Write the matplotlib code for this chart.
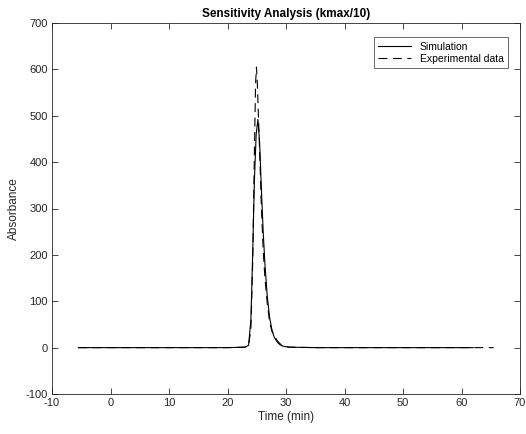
import matplotlib
matplotlib.use("Agg")
import matplotlib.pyplot as plt

plt.rcParams['font.family'] = ['Liberation Sans', 'DejaVu Sans']
plt.rcParams['axes.unicode_minus'] = False

sim_t = [-5.5, 10, 20, 23.0, 23.6, 24.0, 24.3, 24.6, 24.9, 25.2, 25.5, 25.8,
         26.1, 26.4, 26.8, 27.2, 27.6, 28.0, 28.5, 29.0, 29.5, 30.5, 35, 45, 62]
sim_v = [0, 0, 0, 1, 5, 60, 200, 360, 460, 492, 440, 340,
         250, 180, 110, 65, 38, 22, 12, 6, 3, 1, 0, 0, 0]

exp_t = [-5.5, 10, 20, 23.0, 23.6, 24.0, 24.3, 24.6, 24.8, 24.95, 25.1, 25.5,
         25.8, 26.1, 26.4, 26.8, 27.2, 27.6, 28.0, 28.5, 29.0, 29.5, 30.5, 35, 45, 65.5]
exp_v = [0, 0, 0, 1, 4, 40, 180, 420, 570, 605, 570, 420,
         300, 210, 150, 95, 55, 35, 25, 15, 8, 4, 1, 0, 0, 0]

xticks = [-10, 0, 10, 20, 30, 40, 50, 60, 70]
yticks = [-100, 0, 100, 200, 300, 400, 500, 600, 700]

fig = plt.figure(figsize=(5.26, 4.34), dpi=100)
ax = fig.add_axes([52/526, 40/434, 468/526, 371/434])

ax.plot(sim_t, sim_v, color='black', lw=0.8, label='Simulation')
ax.plot(exp_t, exp_v, color='black', lw=0.8, dashes=(8, 5), label='Experimental data')

ax.set_xlim(-10, 70)
ax.set_ylim(-100, 700)
ax.set_xticks(xticks)
ax.set_yticks(yticks)
ax.tick_params(direction='in', top=True, right=True, labelsize=8, length=4,
               width=0.6, colors='#262626', pad=3)
for s in ax.spines.values():
    s.set_linewidth(0.6)
    s.set_color('#262626')

ax.set_xlabel('Time (min)', fontsize=8.5, color='#262626', labelpad=2)
ax.set_ylabel('Absorbance', fontsize=8.5, color='#262626', labelpad=4)
ax.set_title('Sensitivity Analysis (kmax/10)', fontsize=8.5, fontweight='bold', pad=4)

leg = ax.legend(loc='upper right', fontsize=7.5, frameon=True, fancybox=False,
                edgecolor='#262626', handlelength=3.2, borderpad=0.4,
                labelspacing=0.2, bbox_to_anchor=(0.985, 0.975))
leg.get_frame().set_linewidth(0.6)

fig.savefig('out.png', dpi=100)
